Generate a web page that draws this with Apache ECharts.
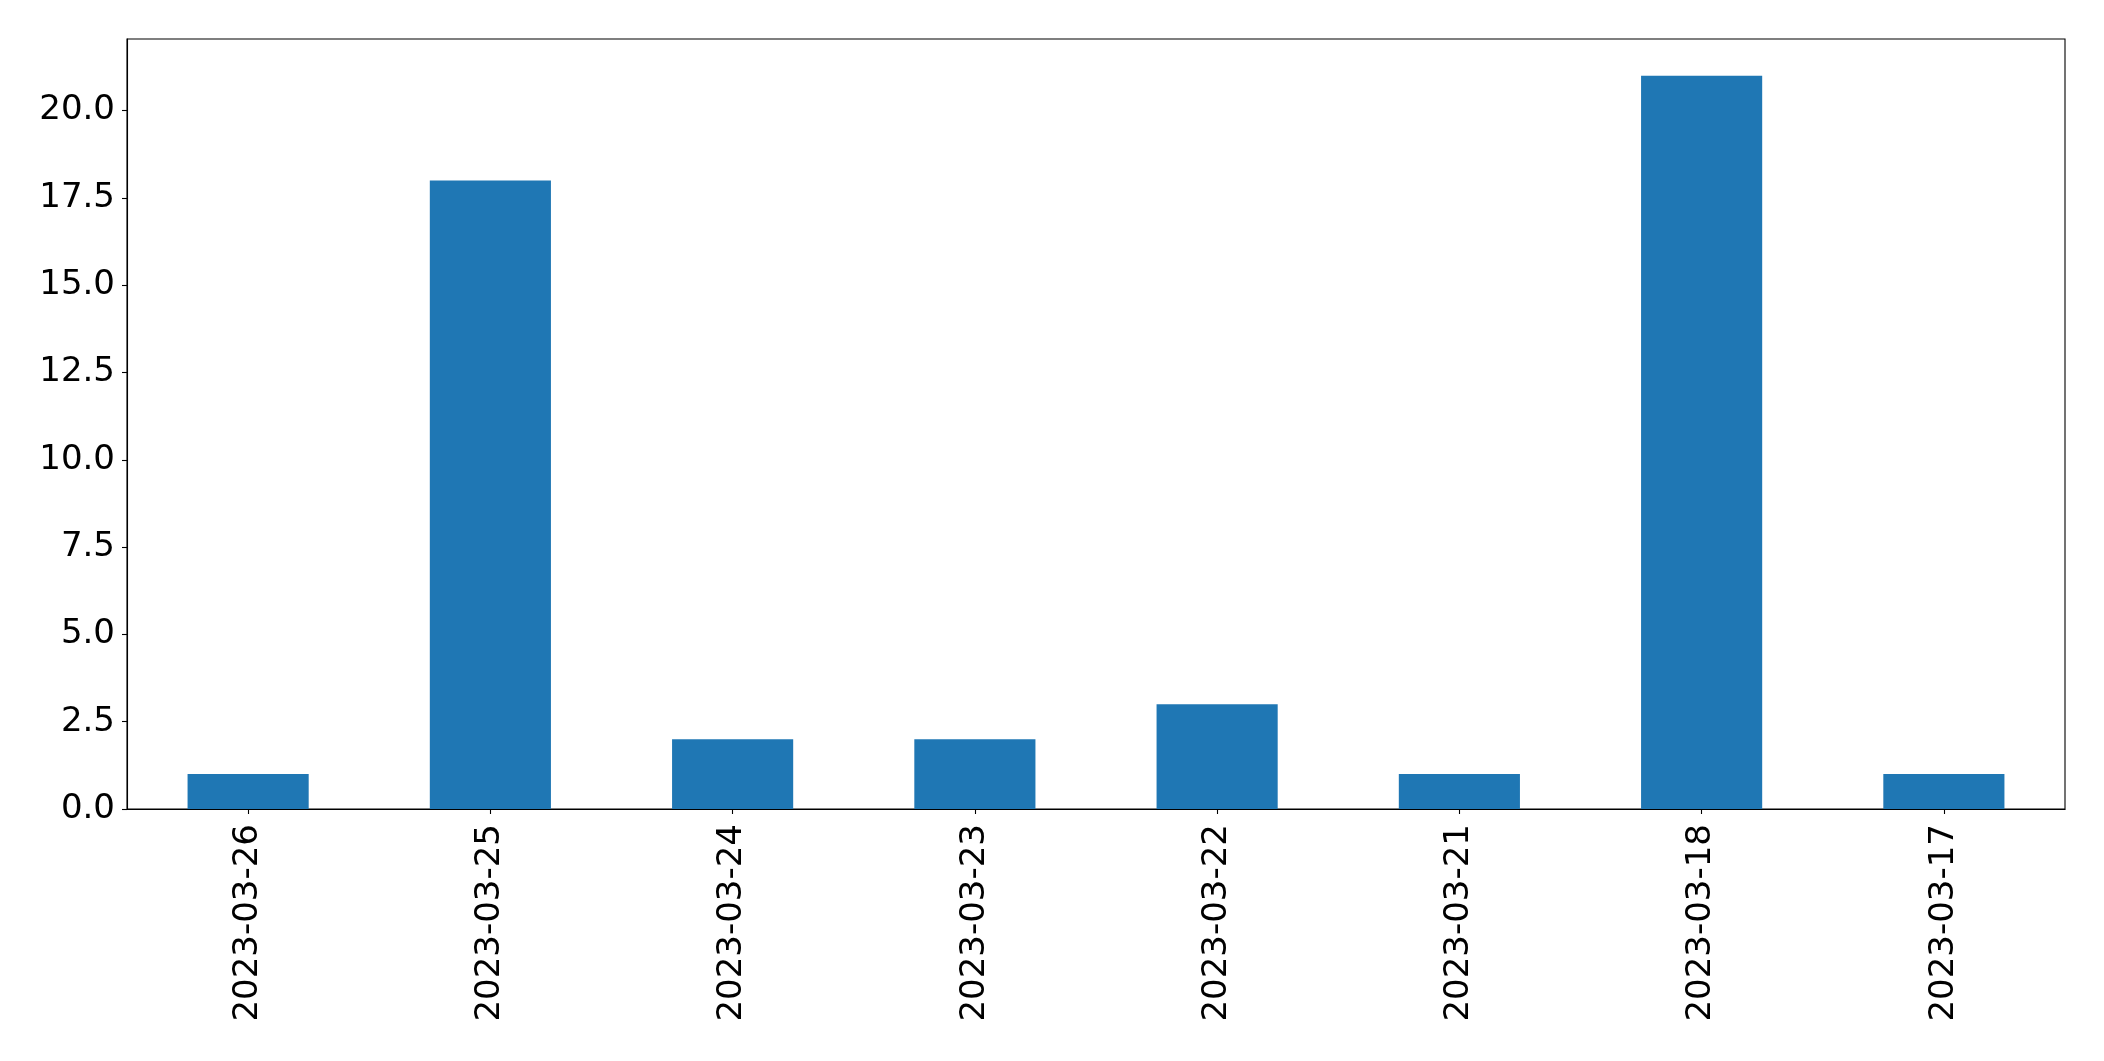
<!DOCTYPE html>
<html>
<head>
<meta charset="utf-8">
<script src="https://cdn.jsdelivr.net/npm/echarts@6/dist/echarts.min.js"></script>
<style>html,body{margin:0;padding:0;background:#fff;}#c{width:2104px;height:1061px;}</style>
</head>
<body>
<div id="c"></div>
<script>
const categories = ['2023-03-26','2023-03-25','2023-03-24','2023-03-23','2023-03-22','2023-03-21','2023-03-18','2023-03-17'];
const values = [1, 18, 2, 2, 3, 1, 21, 1];
const yTicks = [0, 2.5, 5, 7.5, 10, 12.5, 15, 17.5, 20];
const yMax = 22.05;

const chart = echarts.init(document.getElementById('c'), null, {renderer: 'canvas'});
const font = 'DejaVu Sans';
chart.setOption({
  animation: false,
  grid: {left: 127, right: 39, top: 39, bottom: 252, show: true, borderColor: '#000', borderWidth: 1.1, backgroundColor: 'transparent'},
  xAxis: {
    type: 'category',
    data: categories,
    boundaryGap: true,
    axisLine: {lineStyle: {color: '#000', width: 1.1}},
    axisTick: {show: true, alignWithLabel: true, length: 5, lineStyle: {color: '#000', width: 1.1}},
    axisLabel: {rotate: 90, color: '#000', fontFamily: font, fontSize: 34, margin: 15, interval: 0},
    splitLine: {show: false}
  },
  yAxis: {
    type: 'value',
    min: 0,
    max: yMax,
    axisLine: {show: true, lineStyle: {color: '#000', width: 1.1}},
    axisTick: {show: true, length: 5, lineStyle: {color: '#000', width: 1.1}, customValues: yTicks},
    axisLabel: {color: '#000', fontFamily: font, fontSize: 34, margin: 12, customValues: yTicks,
      formatter: v => Number(v).toFixed(1)},
    splitLine: {show: false}
  },
  series: [{
    type: 'bar',
    data: values,
    barWidth: '50%',
    itemStyle: {color: '#1f77b4'}
  }]
});
</script>
</body>
</html>
